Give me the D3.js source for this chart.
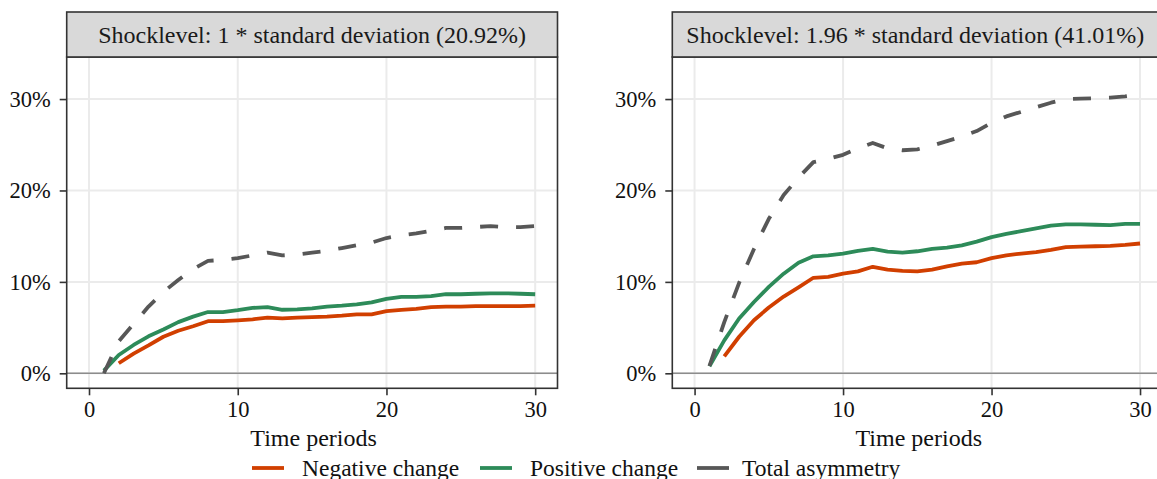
<!DOCTYPE html>
<html>
<head>
<meta charset="utf-8">
<script src="https://cdn.jsdelivr.net/npm/d3@7"></script>
<style>
  body { margin: 0; background: #fff; }
  svg { display: block; font-family: "Liberation Serif", "Times New Roman", serif; }
</style>
</head>
<body>
<svg id="chart" width="1157" height="479"></svg>
<script>
// time periods 1..30
var periods = d3.range(1, 31);

var panelTitles = [
  "Shocklevel: 1 * standard deviation (20.92%)",
  "Shocklevel: 1.96 * standard deviation (41.01%)"
];

// values in percent (null = not drawn)
var negLeft = [null, 1.1, 2.15, 3.05, 4.0, 4.65, 5.15, 5.7, 5.7, 5.8, 5.9, 6.1, 6.0, 6.1, 6.15,
  6.2, 6.3, 6.45, 6.45, 6.8, 6.95, 7.05, 7.25, 7.3, 7.3, 7.35, 7.35, 7.35, 7.35, 7.4];
var posLeft = [0.3, 2.0, 3.1, 4.05, 4.8, 5.6, 6.2, 6.7, 6.7, 6.9, 7.15, 7.25, 6.95, 7.0, 7.1,
  7.3, 7.4, 7.55, 7.75, 8.15, 8.35, 8.35, 8.45, 8.65, 8.65, 8.7, 8.75, 8.75, 8.7, 8.65];
var totLeft = [0, 3.5, 5.4, 7.3, 8.9, 10.2, 11.4, 12.3, 12.4, 12.6, 12.9, 13.2, 12.9, 13.0, 13.2,
  13.4, 13.7, 14.0, 14.3, 14.8, 15.1, 15.3, 15.6, 15.9, 15.9, 16.0, 16.1, 16.0, 16.0, 16.1];

var negRight = [null, 1.86, 4.0, 5.8, 7.2, 8.4, 9.4, 10.45, 10.55, 10.9, 11.15, 11.65, 11.35, 11.2, 11.15,
  11.35, 11.7, 12.0, 12.15, 12.6, 12.9, 13.1, 13.25, 13.5, 13.8, 13.85, 13.9, 13.95, 14.05, 14.2];
var posRight = [0.77, 3.6, 6.0, 7.8, 9.45, 10.9, 12.1, 12.8, 12.9, 13.1, 13.4, 13.6, 13.3, 13.2, 13.35,
  13.6, 13.75, 14.0, 14.4, 14.9, 15.25, 15.55, 15.85, 16.15, 16.3, 16.3, 16.25, 16.2, 16.35, 16.35];
var totRight = [0.8, 5.6, 9.9, 13.6, 16.9, 19.5, 21.4, 23.1, 23.45, 23.9, 24.6, 25.2, 24.6, 24.4, 24.5,
  24.9, 25.4, 25.9, 26.5, 27.4, 28.1, 28.6, 29.1, 29.6, 30.0, 30.05, 30.1, 30.15, 30.3, 30.5];

var xTicks = [0, 10, 20, 30];
var yTicks = [0, 10, 20, 30];

var seriesNames = ["Negative change", "Positive change", "Total asymmetry"];
var seriesColors = ["#d13f00", "#2d8b59", "#575757"];
var seriesDash = [null, null, "18,18"];

var panels = [
  {title: panelTitles[0], left: 66.7, right: 557.5, series: [negLeft, posLeft, totLeft]},
  {title: panelTitles[1], left: 672.3, right: 1162.3, series: [negRight, posRight, totRight]}
];

var PANEL_TOP = 57;
var PANEL_BOTTOM = 388.3;
var STRIP_TOP = 12;
var TICK_LEN = 7;
var BORDER = "#333333";

var svg = d3.select("#chart");

var y = d3.scaleLinear().domain([-1.64, 34.6]).range([PANEL_BOTTOM, PANEL_TOP]);

panels.forEach(function(p) {
  var x = d3.scaleLinear().domain([-1.5, 31.5]).range([p.left, p.right]);
  var g = svg.append("g");

  // grid
  g.selectAll("line.gx").data(xTicks).enter().append("line")
    .attr("x1", x).attr("x2", x)
    .attr("y1", PANEL_TOP).attr("y2", PANEL_BOTTOM)
    .attr("stroke", "#ebebeb").attr("stroke-width", 2);
  g.selectAll("line.gy").data(yTicks).enter().append("line")
    .attr("x1", p.left).attr("x2", p.right)
    .attr("y1", y).attr("y2", y)
    .attr("stroke", "#ebebeb").attr("stroke-width", 2);

  // zero reference line
  g.append("line")
    .attr("x1", p.left).attr("x2", p.right)
    .attr("y1", y(0)).attr("y2", y(0))
    .attr("stroke", "#8c8c8c").attr("stroke-width", 1.5);

  // series
  p.series.forEach(function(vals, k) {
    var line = d3.line()
      .defined(function(d) { return d != null; })
      .x(function(d, i) { return x(periods[i]); })
      .y(function(d) { return y(d); });
    g.append("path")
      .datum(vals)
      .attr("d", line)
      .attr("fill", "none")
      .attr("stroke", seriesColors[k])
      .attr("stroke-width", 3.8)
      .attr("stroke-linejoin", "round")
      .attr("stroke-dasharray", seriesDash[k]);
  });

  // panel border
  g.append("rect")
    .attr("x", p.left).attr("y", PANEL_TOP)
    .attr("width", p.right - p.left).attr("height", PANEL_BOTTOM - PANEL_TOP)
    .attr("fill", "none").attr("stroke", BORDER).attr("stroke-width", 1.6);

  // strip
  g.append("rect")
    .attr("x", p.left).attr("y", STRIP_TOP)
    .attr("width", p.right - p.left).attr("height", PANEL_TOP - STRIP_TOP)
    .attr("fill", "#d9d9d9").attr("stroke", BORDER).attr("stroke-width", 1.6);
  g.append("text")
    .attr("x", (p.left + p.right) / 2 - (p.right > 1157 ? 2 : 0))
    .attr("y", 43)
    .attr("text-anchor", "middle")
    .attr("font-size", 24)
    .attr("fill", "#1a1a1a")
    .text(p.title);

  // x axis
  var xAxis = d3.axisBottom(x).tickValues(xTicks).tickSize(TICK_LEN).tickPadding(6);
  var gx = g.append("g").attr("transform", "translate(0," + PANEL_BOTTOM + ")").call(xAxis);
  gx.select(".domain").remove();
  gx.selectAll(".tick line").attr("stroke", BORDER).attr("stroke-width", 1.6);
  gx.selectAll(".tick text").attr("font-size", 22.5).attr("fill", "#111")
    .attr("font-family", "Liberation Serif, serif");

  // y axis
  var yAxis = d3.axisLeft(y).tickValues(yTicks).tickSize(TICK_LEN).tickPadding(9)
    .tickFormat(function(d) { return d + "%"; });
  var gy = g.append("g").attr("transform", "translate(" + p.left + ",0)").call(yAxis);
  gy.select(".domain").remove();
  gy.selectAll(".tick line").attr("stroke", BORDER).attr("stroke-width", 1.6);
  gy.selectAll(".tick text").attr("font-size", 22.5).attr("fill", "#111")
    .attr("font-family", "Liberation Serif, serif");

  // x title
  g.append("text")
    .attr("x", x(15.1))
    .attr("y", 446)
    .attr("text-anchor", "middle")
    .attr("font-size", 24)
    .attr("fill", "#111")
    .text("Time periods");
});

// legend
var legendKeyX = [252, 480, 697];
var legendTextX = [302, 530, 742];
var lg = svg.append("g");
seriesNames.forEach(function(name, k) {
  lg.append("line")
    .attr("x1", legendKeyX[k]).attr("x2", legendKeyX[k] + 32)
    .attr("y1", 468).attr("y2", 468)
    .attr("stroke", seriesColors[k]).attr("stroke-width", 3.8);
  lg.append("text")
    .attr("x", legendTextX[k])
    .attr("y", 475.5)
    .attr("font-size", 23.5)
    .attr("fill", "#111")
    .text(name);
});
</script>
</body>
</html>
